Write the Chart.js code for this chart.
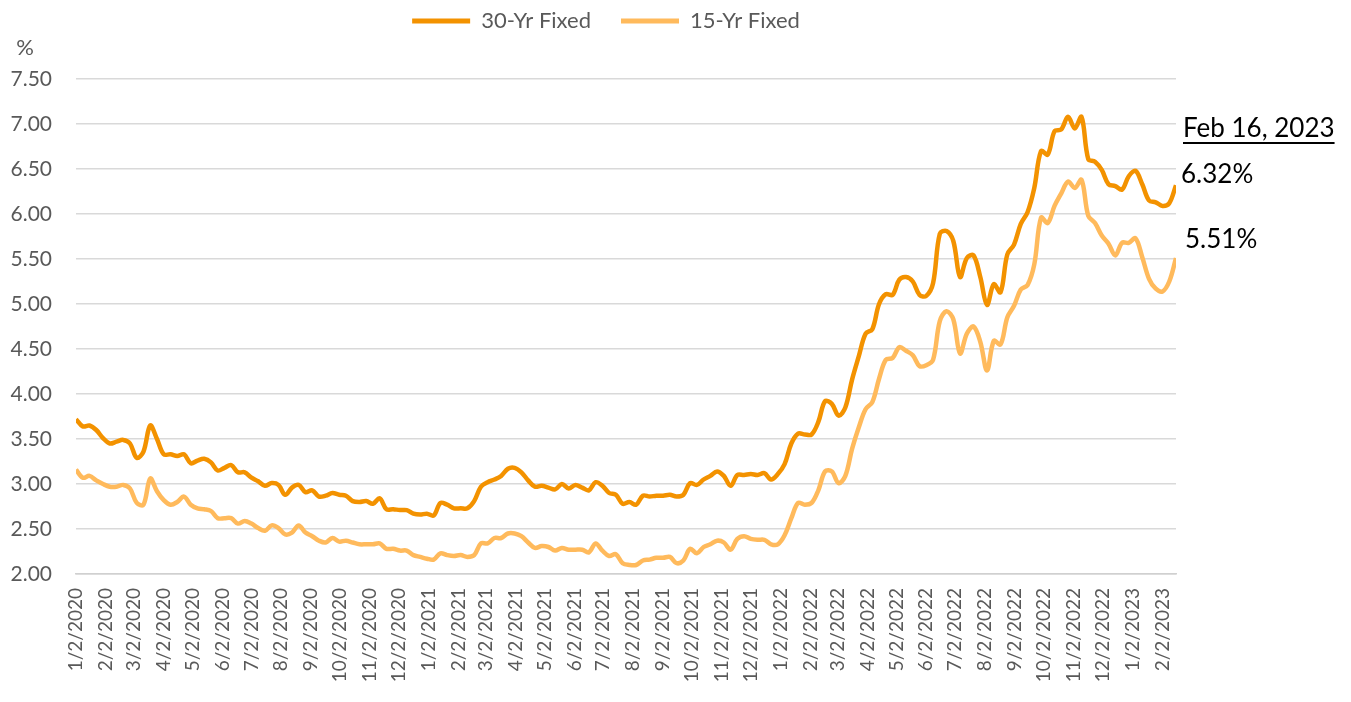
<!DOCTYPE html>
<html lang="en">
<head>
  <meta charset="UTF-8">
  <title>Mortgage rates</title>
  <script src="https://cdn.jsdelivr.net/npm/chart.js"></script>
  <style>
    body {
      margin: 0;
      background: white;
    }
    #wrap {
      position: relative;
      width: 1351px;
      height: 702px;
    }
  </style>
</head>
<body>
  <div id="wrap">
    <canvas id="taux"></canvas>
  </div>

  <script>
    // weekly survey, one value per Thursday from 1/2/2020 to 2/16/2023
    const firstWeek = '1/2/2020';

    const fixed30 = [
      // 2020
      3.72, 3.64, 3.65, 3.60, 3.51, 3.45, 3.47, 3.49, 3.45, 3.29, 3.36, 3.65, 3.50,
      3.33, 3.33, 3.31, 3.33, 3.23, 3.26, 3.28, 3.24, 3.15, 3.18, 3.21, 3.13, 3.13,
      3.07, 3.03, 2.98, 3.01, 2.99, 2.88, 2.96, 2.99, 2.91, 2.93, 2.86, 2.87, 2.90,
      2.88, 2.87, 2.81, 2.80, 2.81, 2.78, 2.84, 2.72, 2.72, 2.71, 2.71, 2.67, 2.66, 2.67,
      // 2021
      2.65, 2.79, 2.77, 2.73, 2.73, 2.73, 2.81, 2.97, 3.02, 3.05, 3.09, 3.17, 3.18,
      3.13, 3.04, 2.97, 2.98, 2.96, 2.94, 3.00, 2.95, 2.99, 2.96, 2.93, 3.02, 2.98,
      2.90, 2.88, 2.78, 2.80, 2.77, 2.87, 2.86, 2.87, 2.87, 2.88, 2.86, 2.88, 3.01,
      2.99, 3.05, 3.09, 3.14, 3.09, 2.98, 3.10, 3.10, 3.11, 3.10, 3.12, 3.05, 3.11,
      // 2022
      3.22, 3.45, 3.56, 3.55, 3.55, 3.69, 3.92, 3.89, 3.76, 3.85, 4.16, 4.42, 4.67,
      4.72, 5.00, 5.11, 5.10, 5.27, 5.30, 5.25, 5.10, 5.09, 5.23, 5.78, 5.81, 5.70,
      5.30, 5.51, 5.54, 5.30, 4.99, 5.22, 5.13, 5.55, 5.66, 5.89, 6.02, 6.29, 6.70,
      6.66, 6.92, 6.94, 7.08, 6.95, 7.08, 6.61, 6.58, 6.49, 6.33, 6.31, 6.27, 6.42,
      // 2023
      6.48, 6.33, 6.15, 6.13, 6.09, 6.12, 6.32
    ];

    const fixed15 = [
      // 2020
      3.16, 3.07, 3.09, 3.04, 3.00, 2.97, 2.97, 2.99, 2.95, 2.79, 2.77, 3.06, 2.92,
      2.82, 2.77, 2.80, 2.86, 2.77, 2.73, 2.72, 2.70, 2.62, 2.62, 2.62, 2.56, 2.59,
      2.56, 2.51, 2.48, 2.54, 2.51, 2.44, 2.46, 2.54, 2.46, 2.42, 2.37, 2.35, 2.40,
      2.36, 2.37, 2.35, 2.33, 2.33, 2.33, 2.34, 2.28, 2.28, 2.26, 2.26, 2.21, 2.19, 2.17,
      // 2021
      2.16, 2.23, 2.21, 2.20, 2.21, 2.19, 2.21, 2.34, 2.34, 2.40, 2.40, 2.45, 2.45,
      2.42, 2.35, 2.29, 2.31, 2.30, 2.26, 2.29, 2.27, 2.27, 2.27, 2.24, 2.34, 2.26,
      2.20, 2.22, 2.12, 2.10, 2.10, 2.15, 2.16, 2.18, 2.18, 2.19, 2.12, 2.15, 2.28,
      2.23, 2.30, 2.33, 2.37, 2.35, 2.27, 2.39, 2.42, 2.39, 2.38, 2.38, 2.33, 2.33,
      // 2022
      2.43, 2.62, 2.79, 2.77, 2.79, 2.93, 3.14, 3.14, 3.01, 3.09, 3.39, 3.63, 3.83,
      3.91, 4.17, 4.38, 4.40, 4.52, 4.48, 4.43, 4.31, 4.32, 4.38, 4.81, 4.92, 4.83,
      4.45, 4.67, 4.75, 4.58, 4.26, 4.59, 4.55, 4.85, 4.98, 5.16, 5.21, 5.44, 5.96,
      5.90, 6.09, 6.23, 6.36, 6.29, 6.38, 5.98, 5.90, 5.76, 5.67, 5.54, 5.68, 5.68,
      // 2023
      5.73, 5.52, 5.28, 5.17, 5.14, 5.25, 5.51
    ];

    const monthTicks = [
      '1/2/2020', '2/2/2020', '3/2/2020', '4/2/2020', '5/2/2020', '6/2/2020',
      '7/2/2020', '8/2/2020', '9/2/2020', '10/2/2020', '11/2/2020', '12/2/2020',
      '1/2/2021', '2/2/2021', '3/2/2021', '4/2/2021', '5/2/2021', '6/2/2021',
      '7/2/2021', '8/2/2021', '9/2/2021', '10/2/2021', '11/2/2021', '12/2/2021',
      '1/2/2022', '2/2/2022', '3/2/2022', '4/2/2022', '5/2/2022', '6/2/2022',
      '7/2/2022', '8/2/2022', '9/2/2022', '10/2/2022', '11/2/2022', '12/2/2022',
      '1/2/2023', '2/2/2023'
    ];

    const lastDate = 'Feb 16, 2023';
    const yTicks = [2, 2.5, 3, 3.5, 4, 4.5, 5, 5.5, 6, 6.5, 7, 7.5];

    const orange = '#F39200';
    const lightOrange = '#FFBA5C';
    const grey = '#595959';
    const police = 'Lato, "Liberation Sans", sans-serif';

    function jours(s) {
      const [m, d, y] = s.split('/').map(Number);
      const [m0, d0, y0] = firstWeek.split('/').map(Number);
      return Math.round((Date.UTC(y, m - 1, d) - Date.UTC(y0, m0 - 1, d0)) / 86400000);
    }

    const tickLabels = {};
    monthTicks.forEach(t => { tickLabels[jours(t)] = t; });

    const points30 = fixed30.map((v, i) => ({ x: i * 7, y: v }));
    const points15 = fixed15.map((v, i) => ({ x: i * 7, y: v }));
    const xMax = (fixed30.length - 1) * 7;

    // legend keeps its place at the top but reserves more room under it
    const legendHeight = {
      id: 'legendHeight',
      beforeLayout(chart) {
        const lg = chart.legend;
        if (lg && !lg._patched) {
          const fit = lg.fit.bind(lg);
          lg.fit = function () {
            fit();
            this.height = 99;
          };
          lg._patched = true;
        }
      },
      afterLayout(chart) {
        if (chart.legend) {
          chart.legend.left += 18;
          chart.legend.right += 18;
        }
      }
    };

    // texts outside the plot: "%" over the axis, date and last values on the right
    const annotations = {
      id: 'annotations',
      afterDraw(chart) {
        const ctx = chart.ctx;
        const area = chart.chartArea;
        const y = chart.scales.y;
        ctx.save();
        ctx.fillStyle = grey;
        ctx.font = '22px ' + police;
        ctx.textAlign = 'center';
        ctx.textBaseline = 'middle';
        ctx.fillText('%', 25, 48);

        ctx.fillStyle = 'black';
        ctx.textAlign = 'left';
        ctx.font = '26px ' + police;
        const x0 = area.right + 7;
        ctx.fillText(lastDate, x0, 129);
        const w = ctx.measureText(lastDate).width;
        ctx.fillRect(x0, 142, w, 2);

        const v30 = fixed30[fixed30.length - 1];
        const v15 = fixed15[fixed15.length - 1];
        ctx.fillText(v30.toFixed(2) + '%', area.right + 5, y.getPixelForValue(v30) - 11);
        ctx.fillText(v15.toFixed(2) + '%', area.right + 9, y.getPixelForValue(v15) - 18);
        ctx.restore();
      }
    };

    const ctx = document.getElementById('taux').getContext('2d');
    new Chart(ctx, {
      type: 'line',
      data: {
        datasets: [
          {
            label: '30-Yr Fixed',
            data: points30,
            borderColor: orange,
            backgroundColor: orange,
            borderWidth: 4.5,
            pointRadius: 0,
            tension: 0.35
          },
          {
            label: '15-Yr Fixed',
            data: points15,
            borderColor: lightOrange,
            backgroundColor: lightOrange,
            borderWidth: 4.5,
            pointRadius: 0,
            tension: 0.35
          }
        ]
      },
      options: {
        responsive: true,
        maintainAspectRatio: false,
        animation: false,
        layout: {
          padding: { top: -20, right: 175, bottom: 0, left: 0 }
        },
        scales: {
          x: {
            type: 'linear',
            min: 0,
            max: xMax,
            afterBuildTicks(scale) {
              scale.ticks = Object.keys(tickLabels).map(v => ({ value: Number(v) }));
            },
            afterFit(scale) {
              scale.height = 128;
            },
            grid: { display: false, drawTicks: false },
            border: { color: '#D0D0D0', width: 1.5 },
            ticks: {
              autoSkip: false,
              maxRotation: 90,
              minRotation: 90,
              padding: 14,
              color: grey,
              font: { family: police, size: 19 },
              callback: v => tickLabels[v]
            }
          },
          y: {
            min: 2,
            max: 7.5,
            afterBuildTicks(scale) {
              scale.ticks = yTicks.map(v => ({ value: v }));
            },
            afterFit(scale) {
              scale.width = 76;
            },
            grid: { color: '#D9D9D9', lineWidth: 1.5, drawTicks: false },
            border: { display: false },
            ticks: {
              padding: 24,
              color: grey,
              font: { family: police, size: 21 },
              callback: v => v.toFixed(2)
            }
          }
        },
        plugins: {
          legend: {
            position: 'top',
            labels: {
              boxWidth: 58,
              boxHeight: 5,
              padding: 30,
              color: grey,
              font: { family: police, size: 22 },
              generateLabels(chart) {
                return Chart.defaults.plugins.legend.labels.generateLabels(chart)
                  .map(item => Object.assign(item, { lineWidth: 0 }));
              }
            }
          },
          tooltip: { enabled: false }
        }
      },
      plugins: [legendHeight, annotations]
    });
  </script>
</body>
</html>
